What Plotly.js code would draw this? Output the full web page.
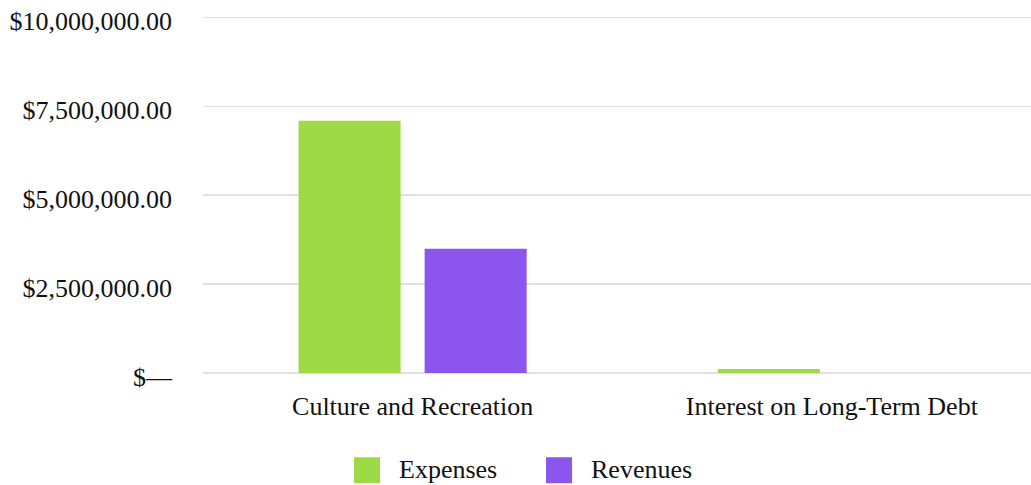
<!DOCTYPE html>
<html>
<head>
<meta charset="utf-8">
<script src="https://cdn.plot.ly/plotly-3.0.1.min.js"></script>
<style>html,body{margin:0;padding:0;background:#fff;overflow:hidden}</style>
</head>
<body>
<div id="chart" style="width:1031px;height:485px"></div>
<script>
const categories = ["Culture and Recreation", "Interest on Long-Term Debt"];
const expenses = [7090000, 115000];
const revenues = [3490000, 0];
const seriesNames = ["Expenses", "Revenues"];
const tickVals = [0, 2500000, 5000000, 7500000, 10000000];
const tickText = ["$\u2014", "$2,500,000.00", "$5,000,000.00", "$7,500,000.00", "$10,000,000.00"];

const green = "#9EDA47";
const purple = "#8C56EE";
const fontFam = "Liberation Serif, Times New Roman, serif";

const traces = [
  {type: "bar", name: seriesNames[0], x: categories, y: expenses, marker: {color: green}, hoverinfo: "none"},
  {type: "bar", name: seriesNames[1], x: categories, y: revenues, marker: {color: purple}, hoverinfo: "none"}
];

const layout = {
  width: 1031, height: 485,
  margin: {l: 203, r: 0, t: 15, b: 112, pad: 0},
  paper_bgcolor: "#fff", plot_bgcolor: "#fff",
  font: {family: fontFam, size: 26, color: "#111"},
  showlegend: false,
  barmode: "group",
  bargap: 0.3986,
  bargroupgap: 0.1905,
  xaxis: {
    type: "category",
    range: [-0.5, 1.475],
    showgrid: false, zeroline: false, showline: false,
    ticks: "", ticklabelstandoff: 15,
    tickfont: {family: fontFam, size: 26, color: "#111"}
  },
  yaxis: {
    range: [0, 10065000],
    tickvals: tickVals, ticktext: tickText,
    showgrid: true, gridcolor: "#e0e0e0", gridwidth: 1.4,
    zeroline: true, zerolinecolor: "#e0e0e0", zerolinewidth: 1.4,
    showline: false, ticks: "",
    ticklabelstandoff: 30, ticklabelshift: 4,
    tickfont: {family: fontFam, size: 26, color: "#111"}
  },
  shapes: [
    {type: "rect", xref: "paper", yref: "paper", xsizemode: "pixel", ysizemode: "pixel",
     xanchor: 0.1824, yanchor: -0.2716, x0: 0, x1: 26, y0: -13, y1: 13,
     fillcolor: green, line: {width: 0}},
    {type: "rect", xref: "paper", yref: "paper", xsizemode: "pixel", ysizemode: "pixel",
     xanchor: 0.4143, yanchor: -0.2716, x0: 0, x1: 26, y0: -13, y1: 13,
     fillcolor: purple, line: {width: 0}}
  ],
  annotations: [
    {xref: "paper", yref: "paper", x: 0.2343, y: -0.2706, xanchor: "left", yanchor: "middle",
     text: seriesNames[0], showarrow: false, font: {family: fontFam, size: 26, color: "#111"}},
    {xref: "paper", yref: "paper", x: 0.4662, y: -0.2706, xanchor: "left", yanchor: "middle",
     text: seriesNames[1], showarrow: false, font: {family: fontFam, size: 26, color: "#111"}}
  ]
};

Plotly.newPlot("chart", traces, layout, {displayModeBar: false, staticPlot: true});
</script>
</body>
</html>
